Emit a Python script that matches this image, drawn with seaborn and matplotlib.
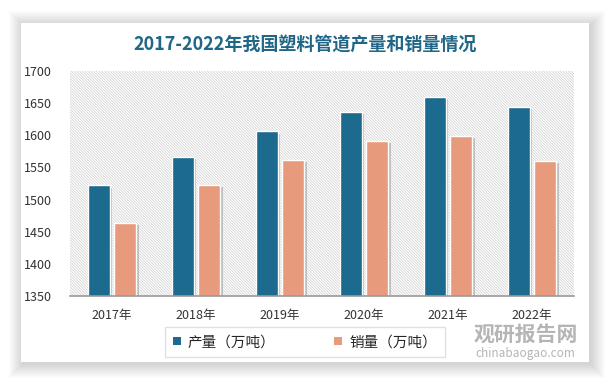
import pandas as pd
import matplotlib.pyplot as plt
import matplotlib.patheffects as pe
from matplotlib.patches import Rectangle
import seaborn as sns

years = ['2017年', '2018年', '2019年', '2020年', '2021年', '2022年']
production = [1522, 1567, 1606, 1637, 1660, 1644]
sales = [1464, 1523, 1562, 1591, 1599, 1560]
series_names = ['产量（万吨）', '销量（万吨）']
colors = ['#1c6b8f', '#e89b7c']

df = pd.DataFrame({
    'year': years * 2,
    'value': production + sales,
    'series': [series_names[0]] * len(years) + [series_names[1]] * len(years),
})

sns.set_style('white')
plt.rcParams['font.family'] = ['Noto Sans CJK SC', 'DejaVu Sans']
plt.rcParams['hatch.linewidth'] = 0.5

fig = plt.figure(figsize=(6.11, 3.88), dpi=100)
fig.patch.set_facecolor('white')

# white card with a soft glow around it
W, H = 611, 388
x0, y0, x1, y1 = 21, 23, 589, 362
for k in range(14, 0, -1):
    fig.patches.append(Rectangle(((x0 - k + 2) / W, 1 - (y1 + k + 2) / H),
                                 (x1 - x0 + 2 * k) / W, (y1 - y0 + 2 * k) / H,
                                 transform=fig.transFigure, facecolor='#000000',
                                 edgecolor='none', alpha=0.012, zorder=-6))
fig.patches.append(Rectangle((x0 / W, 1 - y1 / H), (x1 - x0) / W, (y1 - y0) / H,
                             transform=fig.transFigure, facecolor='white',
                             edgecolor='none', zorder=-5))

ax = fig.add_axes([70 / W, 1 - 296 / H, (574 - 70) / W, (296 - 71) / H])
ax.set_facecolor('white')

sns.barplot(data=df, x='year', y='value', hue='series', palette=colors, saturation=1,
            width=0.64, gap=0.18, ax=ax, zorder=2)
for bar in ax.patches:
    bar.set_edgecolor('white')
    bar.set_linewidth(1.0)
    bar.set_path_effects([pe.SimplePatchShadow(offset=(1.5, -1.5), shadow_rgbFace='#888888', alpha=0.45),
                          pe.Normal()])

# hatched plot background
ax.add_patch(Rectangle((0, 0), 1, 1, transform=ax.transAxes, facecolor='white',
                       edgecolor='#cdcdcd', linewidth=0, hatch='\\' * 12, zorder=0))

ax.set_ylim(1350, 1700)
ax.set_yticks(range(1350, 1701, 50))
ax.set_xlabel('')
ax.set_ylabel('')
ax.tick_params(axis='y', length=0, pad=13, labelsize=9, labelcolor='#333333')
ax.tick_params(axis='x', length=0, pad=9, labelsize=9, labelcolor='#333333')
for s in ['top', 'right', 'left']:
    ax.spines[s].set_visible(False)
ax.spines['bottom'].set_color('#9a9a9a')
ax.spines['bottom'].set_linewidth(1.2)

leg = ax.legend(loc='upper center', bbox_to_anchor=(0.466, -0.155), ncol=2,
                frameon=True, fontsize=10.5, handlelength=0.55, handleheight=0.55,
                columnspacing=4.0, handletextpad=0.5, borderpad=0.3, borderaxespad=0)
leg.get_frame().set_edgecolor('#d9d9d9')
leg.get_frame().set_linewidth(1.0)
leg.get_frame().set_boxstyle('square', pad=0.25)
for h in leg.legend_handles:
    h.set_path_effects([])
    h.set_edgecolor('none')

fig.text(0.5, 1 - 45 / H, '2017-2022年我国塑料管道产量和销量情况', ha='center', va='center',
         fontsize=13, fontweight='bold', color='#1f6687')

# watermark
fig.text(0.86, 1 - 334 / H, '观研报告网', ha='center', va='center', fontsize=15,
         fontweight='bold', color='#a8a8a8', alpha=0.85)
fig.text(0.86, 1 - 353 / H, 'chinabaogao.com', ha='center', va='center', fontsize=8.5,
         color='#a8a8a8', alpha=0.85)

fig.savefig('out.png', dpi=100, facecolor=fig.get_facecolor())
